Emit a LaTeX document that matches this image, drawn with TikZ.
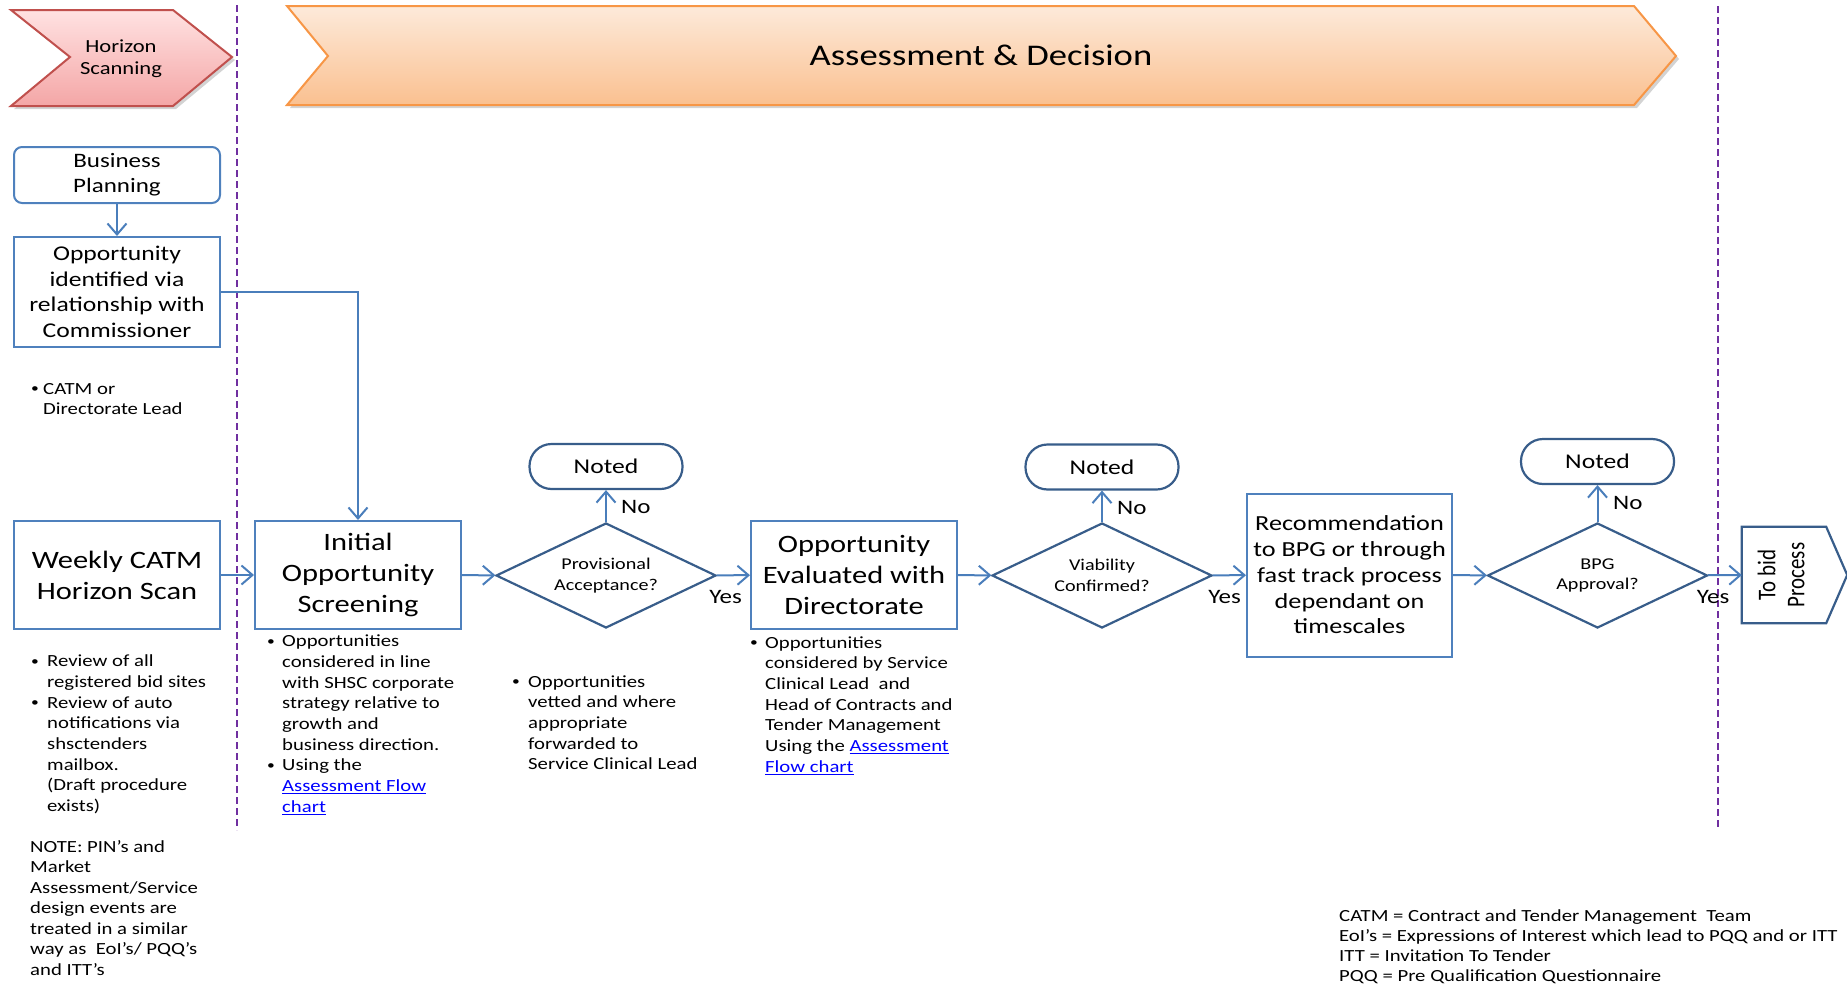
\documentclass[tikz,border=0pt]{standalone}
\usepackage{fontspec}
\setmainfont{Carlito}[FakeStretch=1.22]
\newfontfamily\rotfont{Carlito}[FakeStretch=0.82]
\usetikzlibrary{positioning,shadows,arrows.meta,shapes.geometric}
\definecolor{boxBlue}{HTML}{4F81BD}
\definecolor{darkBlue}{HTML}{385D8A}
\definecolor{lineBlue}{HTML}{4A7EBB}
\definecolor{lanePurple}{HTML}{7030A0}
\definecolor{linkBlue}{HTML}{0000FF}
\definecolor{orangeEdge}{HTML}{F79646}
\definecolor{orangeTop}{HTML}{FDEADA}
\definecolor{orangeBot}{HTML}{FAC090}
\definecolor{pinkEdge}{HTML}{C0504D}
\definecolor{pinkTop}{HTML}{FFE2E2}
\definecolor{pinkBot}{HTML}{F4A6A6}
\newcommand{\fsz}[2]{\fontsize{#1}{#2}\selectfont}
\newcommand{\bu}[1][16pt]{\strut\makebox[#1][l]{\raisebox{1.2pt}{\scalebox{0.75}{\textbullet}}}}
\newcommand{\indnt}[1][16pt]{\hspace*{#1}}
\newcommand{\lnk}[1]{\textcolor{linkBlue}{\underline{#1}}}
\tikzset{
  procBox/.style={rectangle, draw=boxBlue, line width=2pt, fill=white, align=center, inner sep=2pt, font=\fsz{25}{31}},
  notedNode/.style={rectangle, rounded corners=22pt, draw=darkBlue, line width=2.2pt, minimum width=153pt, minimum height=45pt, font=\fsz{21}{25}},
  decisionNode/.style={diamond, aspect=2.1, draw=darkBlue, line width=2.2pt, minimum width=220pt, minimum height=105pt, inner sep=0pt, align=center, font=\fsz{16.5}{20.6}},
  noteText/.style={anchor=north west, inner sep=0pt, align=left, font=\fsz{17}{20.7}},
  yesNo/.style={inner sep=0pt, anchor=base west, font=\fsz{20.5}{24}},
  flowOp/.style={draw=lineBlue, line width=2pt, -{Straight Barb[length=11pt,width=19pt]}},
  laneLine/.style={draw=lanePurple, line width=2pt, dash pattern=on 7pt off 4pt},
  bannerShape/.style={line width=2pt, drop shadow={shadow xshift=3pt, shadow yshift=-3pt, opacity=.35}}
}

\begin{document}
\begin{tikzpicture}[x=1pt, y=-1pt]
  \useasboundingbox (0,0) rectangle (1847,985);
  % phase banners
  \path[bannerShape, draw=pinkEdge, top color=pinkTop, bottom color=pinkBot]
    (11,10) -- (173,10) -- (232,57) -- (173,106) -- (11,106) -- (70,57) -- cycle;
  \node[font=\fsz{18.5}{22}, align=center] (hscan) at (121,59) {Horizon\\Scanning};
  \path[bannerShape, draw=orangeEdge, top color=orangeTop, bottom color=orangeBot]
    (287,6) -- (1634,6) -- (1676,56) -- (1634,105) -- (287,105) -- (328,56) -- cycle;
  \node[font=\fsz{30}{36}] (assess) at (981,55) {Assessment \& Decision};
  \draw[laneLine] (237,5) -- (237,830);
  \draw[laneLine] (1718,6) -- (1718,828);

  \node[procBox, rounded corners=8pt, minimum width=206pt, minimum height=56pt, font=\fsz{20.5}{25}] (bplan) at (117,175) {Business\\Planning};
  \node[procBox, minimum width=206pt, minimum height=110pt, font=\fsz{21}{25.5}] (oppid) at (117,292) {Opportunity\\identified via\\relationship with\\Commissioner};
  \node[procBox, minimum width=206pt, minimum height=108pt] (weekly) at (117,575) {Weekly CATM\\Horizon Scan};
  \node[procBox, minimum width=206pt, minimum height=108pt] (screen) at (358,575) {Initial\\Opportunity\\Screening};
  \node[decisionNode] (prov) at (606,575.5) {Provisional\\Acceptance?};
  \node[notedNode] (noted1) at (606,466.5) {Noted};
  \node[procBox, minimum width=206pt, minimum height=108pt] (evaluate) at (854,575) {Opportunity\\Evaluated with\\Directorate};
  \node[decisionNode] (viable) at (1102,575.5) {Viability\\Confirmed?};
  \node[notedNode] (noted2) at (1102,467) {Noted};
  \node[procBox, minimum width=205pt, minimum height=163pt, font=\fsz{21.5}{25.8}] (recommend) at (1349.5,575) {Recommendation\\to BPG or through\\fast track process\\dependant on\\timescales};
  \node[decisionNode] (bpg) at (1597.5,575.5) {BPG\\Approval?};
  \node[notedNode] (noted3) at (1597.5,461.5) {Noted};
  \node[minimum width=84pt, minimum height=96pt, inner sep=0pt] (tobid) at (1784,575)
    {\rotatebox{90}{\rotfont\fsz{25.5}{29}\begin{tabular}{@{}c@{}}To bid\\Process\end{tabular}}};
  \draw[darkBlue, line width=2.2pt] (tobid.north west) -- (tobid.north east) -- ([xshift=21pt]tobid.east)
    -- (tobid.south east) -- (tobid.south west) -- cycle;

  \draw[flowOp] (bplan) -- (oppid);
  \draw[flowOp] (oppid.east) -| (screen.north);
  \draw[flowOp] (weekly) -- (screen);
  \draw[flowOp] (screen) -- (prov);
  \draw[flowOp] (prov) -- (noted1);
  \draw[flowOp] (prov) -- (evaluate);
  \draw[flowOp] (evaluate) -- (viable);
  \draw[flowOp] (viable) -- (noted2);
  \draw[flowOp] (viable) -- (recommend);
  \draw[flowOp] (recommend) -- (bpg);
  \draw[flowOp] (bpg) -- (noted3);
  \draw[flowOp] (bpg) -- (tobid);

  \node[yesNo] (no1) at ([xshift=15pt,yshift=8pt]prov.north) {No};
  \node[yesNo] (yes1) at ([xshift=-8pt,yshift=-27.5pt]prov.east) {Yes};
  \node[yesNo] (no2) at ([xshift=15pt,yshift=7pt]viable.north) {No};
  \node[yesNo] (yes2) at ([xshift=-5pt,yshift=-27.5pt]viable.east) {Yes};
  \node[yesNo] (no3) at ([xshift=15.5pt,yshift=12pt]bpg.north) {No};
  \node[yesNo] (yes3) at ([xshift=-12pt,yshift=-27.5pt]bpg.east) {Yes};

  \node[noteText] (catmNote) at (31,379.5) {\bu[12pt]CATM or\\\indnt[12pt]Directorate Lead};
  \node[noteText] (scanNote) at (31,652) {\bu Review of all\\\indnt registered bid sites\\\bu Review of auto\\\indnt notifications via\\\indnt shsctenders\\\indnt mailbox.\\\indnt (Draft procedure\\\indnt exists)};
  \node[noteText] (screenNote) at (267,632) {\bu[15pt]Opportunities\\\indnt[15pt]considered in line\\\indnt[15pt]with SHSC corporate\\\indnt[15pt]strategy relative to\\\indnt[15pt]growth and\\\indnt[15pt]business direction.\\\bu[15pt]Using the\\\indnt[15pt]\lnk{Assessment Flow}\\\indnt[15pt]\lnk{chart}};
  \node[noteText] (provNote) at (512,672.5) {\bu Opportunities\\\indnt vetted and where\\\indnt appropriate\\\indnt forwarded to\\\indnt Service Clinical Lead};
  \node[noteText] (evalNote) at (750,633.5) {\bu[15pt]Opportunities\\\indnt[15pt]considered by Service\\\indnt[15pt]Clinical Lead\ \ and\\\indnt[15pt]Head of Contracts and\\\indnt[15pt]Tender Management\\\indnt[15pt]Using the \lnk{Assessment}\\\indnt[15pt]\lnk{Flow chart}};
  \node[noteText, font=\fsz{17}{20.5}] (pinNote) at (30,837.6) {\strut NOTE: PIN’s and\\Market\\Assessment/Service\\design events are\\treated in a similar\\way as\ \ EoI’s/ PQQ’s\\and ITT’s};
  \node[noteText, font=\fsz{17}{20}] (legend) at (1339,907) {\strut CATM = Contract and Tender Management\ \ Team\\EoI’s = Expressions of Interest which lead to PQQ and or ITT\\ITT = Invitation To Tender\\PQQ = Pre Qualification Questionnaire};
\end{tikzpicture}
\end{document}
